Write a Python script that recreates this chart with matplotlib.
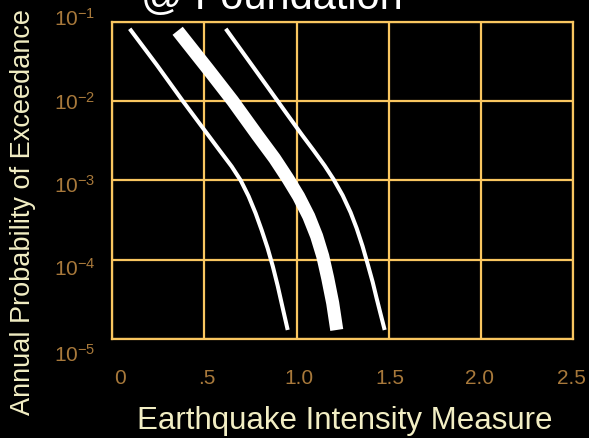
import matplotlib
matplotlib.use('Agg')
import matplotlib.pyplot as plt
import matplotlib.transforms as mtransforms
from matplotlib.ticker import NullLocator

# ---- data ----
left_x = [0.095, 0.241, 0.382, 0.502, 0.583, 0.648, 0.697, 0.740, 0.778,
          0.811, 0.843, 0.871, 0.898, 0.925, 0.952]
left_p = [0.0817, 0.0288, 0.0101, 0.00426, 0.00238, 0.00150, 0.00100, 6.30e-4,
          3.85e-4, 2.35e-4, 1.40e-4, 8.28e-5, 4.65e-5, 2.45e-5, 1.30e-5]

median_x = [0.355, 0.518, 0.653, 0.789, 0.881, 0.952, 1.011, 1.066, 1.109,
            1.142, 1.169, 1.196, 1.218]
median_p = [0.0771, 0.0256, 0.0101, 0.00368, 0.00189, 0.00106, 6.30e-4, 3.53e-4,
            1.98e-4, 1.11e-4, 5.85e-5, 2.84e-5, 1.30e-5]

right_x = [0.616, 0.729, 0.849, 0.946, 1.028, 1.093, 1.152, 1.201, 1.250,
           1.293, 1.326, 1.358, 1.386, 1.413, 1.434, 1.456, 1.478]
right_p = [0.0817, 0.0352, 0.0144, 0.00697, 0.00379, 0.00238, 0.00154, 0.00103,
           6.48e-4, 3.95e-4, 2.49e-4, 1.48e-4, 8.77e-5, 5.21e-5, 3.28e-5,
           2.06e-5, 1.30e-5]

x_ticks = [0, 0.5, 1.0, 1.5, 2.0, 2.5]
x_tick_labels = ['0', '.5', '1.0', '1.5', '2.0', '2.5']
y_ticks = [1e-5, 1e-4, 1e-3, 1e-2, 1e-1]
y_tick_labels = [r'$\mathregular{10^{-5}}$', r'$\mathregular{10^{-4}}$',
                 r'$\mathregular{10^{-3}}$', r'$\mathregular{10^{-2}}$',
                 r'$\mathregular{10^{-1}}$']

title_text = '@ Foundation'
x_label = 'Earthquake Intensity Measure'
y_label = 'Annual Probability of Exceedance'

# ---- style ----
plt.rcParams['font.family'] = ['Liberation Sans', 'DejaVu Sans']
plt.rcParams['mathtext.fontset'] = 'custom'
plt.rcParams['mathtext.rm'] = 'Liberation Sans'
plt.rcParams['mathtext.it'] = 'Liberation Sans'

grid_c = '#F9C660'
tick_c = '#A8793B'
label_c = '#F2EEC4'

fig = plt.figure(figsize=(5.89, 4.39), dpi=100, facecolor='black')
ax = fig.add_axes([0.1905, 0.2255, 0.7825, 0.7225], facecolor='black')

ax.set_xlim(0, 2.5)
ax.set_yscale('log')
ax.set_ylim(1e-5, 1e-1)
ax.set_xticks(x_ticks, x_tick_labels)
ax.set_yticks(y_ticks, y_tick_labels)
ax.yaxis.set_minor_locator(NullLocator())
ax.grid(True, color=grid_c, lw=1.6)
ax.tick_params(length=0, colors=tick_c, labelsize=15)
ax.tick_params(axis='x', pad=21)
ax.tick_params(axis='y', pad=12)
for s in ax.spines.values():
    s.set_color(grid_c)
    s.set_linewidth(1.6)

ax.plot(left_x, left_p, color='white', lw=2.9, solid_capstyle='butt', solid_joinstyle='round')
ax.plot(median_x, median_p, color='white', lw=9.4, solid_capstyle='butt', solid_joinstyle='round')
ax.plot(right_x, right_p, color='white', lw=2.9, solid_capstyle='butt', solid_joinstyle='round')

# small per-label offsets as in the reference (pixels, downward positive)
y_offsets = [13, 6, 2, -1, -6]
for lab, dy in zip(ax.get_yticklabels(), y_offsets):
    lab.set_transform(lab.get_transform() +
                      mtransforms.ScaledTranslation(0, -dy / 100, fig.dpi_scale_trans))
x_offsets = [8, 2, 2, 1, -1, -2]
for lab, dx in zip(ax.get_xticklabels(), x_offsets):
    lab.set_transform(lab.get_transform() +
                      mtransforms.ScaledTranslation(dx / 100, 0, fig.dpi_scale_trans))

fig.text(272 / 589, 1 - 9 / 439, title_text, color='white', fontsize=30,
         ha='center', va='baseline')
fig.text(345 / 589, 1 - 421 / 439, x_label, color=label_c, fontsize=22.5,
         ha='center', va='center')
fig.text(23 / 589, 1 - 212 / 439, y_label, color=label_c, fontsize=19.5,
         ha='center', va='center', rotation=90)

fig.savefig('out.png', dpi=100, facecolor='black')
